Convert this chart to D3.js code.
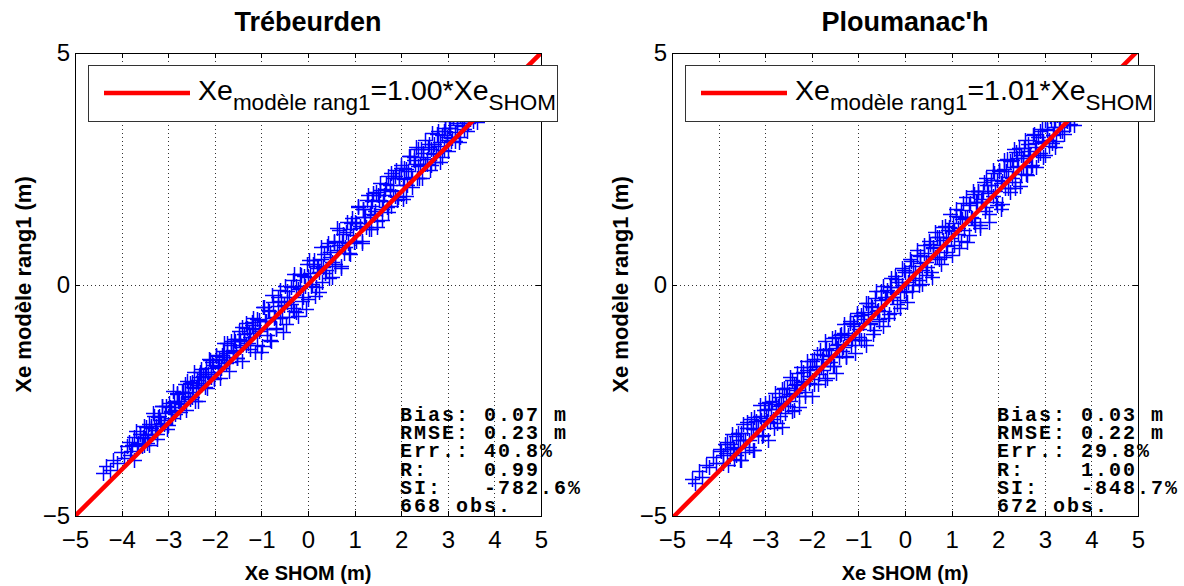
<!DOCTYPE html>
<html lang="fr">
<head>
<meta charset="UTF-8">
<script src="https://cdn.jsdelivr.net/npm/d3@7"></script>
<style>
body { margin: 0; background: #fff; }
svg text { font-family: Arial, "Liberation Sans", Helvetica, sans-serif; fill: #000; }
.grid line { stroke: #333; stroke-width: 1; stroke-dasharray: 1,3; shape-rendering: crispEdges; }
.tick line { stroke: #000; shape-rendering: crispEdges; }
.tick text { font-size: 24px; }
.frame { fill: none; stroke: #000; stroke-width: 1; shape-rendering: crispEdges; }
.stats text { font-family: "Courier New", "Liberation Mono", monospace; font-weight: bold; font-size: 20px; letter-spacing: 2px; white-space: pre; }
</style>
</head>
<body>
<svg id="fig" width="1184" height="586"></svg>
<script>
// station names, fitted slopes and stats text
const titles = ["Trébeurden", "Ploumanac'h"];
const slopes = [1.00, 1.01];
const statsLines = [
  ["Bias: 0.07 m", "RMSE: 0.23 m", "Err.: 40.8%", "R:    0.99", "SI:   -782.6%", "668 obs."],
  ["Bias: 0.03 m", "RMSE: 0.22 m", "Err.: 29.8%", "R:    1.00", "SI:   -848.7%", "672 obs."]
];
const xTicks = [-5, -4, -3, -2, -1, 0, 1, 2, 3, 4, 5];
const yTicks = [-5, 0, 5];

// [Xe SHOM, Xe modele rang1]
const trebeurdenPts = [
  [-4.40,-4.08],[-4.33,-3.92],[-4.25,-4.00],[-4.18,-3.78],[-4.10,-3.85],[-4.02,-3.62],[-3.95,-3.75],[-3.88,-3.48],
  [-3.80,-3.60],[-3.74,-3.30],[-3.67,-3.45],[-3.60,-3.22],
  [-3.55,-3.30],[-3.51,-3.46],[-3.48,-3.08],[-3.44,-3.26],[-3.41,-3.46],[-3.37,-3.05],[-3.34,-3.22],[-3.30,-2.85],
  [-3.27,-3.05],[-3.23,-3.23],[-3.20,-2.84],[-3.16,-3.01],[-3.13,-2.63],[-3.09,-3.01],[-3.06,-2.78],[-3.02,-3.12],
  [-2.99,-2.57],[-2.95,-2.75],[-2.92,-2.89],[-2.88,-2.54],[-2.85,-2.71],[-2.81,-2.34],[-2.78,-2.52],[-2.74,-2.76],
  [-2.71,-2.33],[-2.67,-2.57],[-2.64,-2.34],[-2.60,-2.08],[-2.57,-2.41],[-2.53,-2.47],[-2.50,-2.10],[-2.46,-2.22],
  [-2.43,-2.51],[-2.39,-2.06],[-2.36,-2.17],[-2.32,-1.88],[-2.29,-2.18],[-2.25,-1.98],[-2.22,-2.21],[-2.18,-1.81],
  [-2.15,-1.94],[-2.11,-1.63],[-2.08,-1.99],[-2.04,-1.73],[-2.01,-2.05],[-1.97,-1.54],[-1.94,-1.77],[-1.90,-1.61],
  [-1.87,-1.80],[-1.83,-1.44],[-1.80,-1.57],[-1.76,-1.63],[-1.73,-1.27],[-1.69,-1.67],[-1.66,-1.31],[-1.62,-1.42],
  [-1.59,-1.18],[-1.55,-1.43],[-1.52,-1.58],[-1.48,-1.18],[-1.45,-1.20],[-1.41,-0.91],[-1.38,-1.23],[-1.34,-1.30],
  [-1.31,-0.93],[-1.27,-1.05],[-1.24,-1.14],[-1.20,-0.87],[-1.17,-0.72],[-1.13,-0.95],
  [-1.10,-1.30],[-1.06,-0.76],[-1.02,-0.97],[-0.98,-1.33],[-0.94,-0.49],[-0.91,-0.79],[-0.87,-0.97],[-0.83,-0.58],
  [-0.79,-1.21],[-0.75,-0.37],[-0.71,-0.71],[-0.68,-0.93],[-0.64,-0.46],[-0.60,-0.12],[-0.56,-0.71],[-0.52,-0.44],
  [-0.48,-0.86],[-0.45,-0.13],[-0.41,-0.27],[-0.37,-0.42],[-0.33,0.09],[-0.29,-0.57],[-0.25,-0.03],[-0.22,-0.67],
  [-0.18,-0.08],[-0.14,0.21],[-0.10,-0.28],[-0.06,-0.04],[-0.02,0.45],[0.01,-0.31],[0.05,0.25],[0.09,0.01],
  [0.13,0.53],[0.17,-0.05],[0.21,0.36],[0.24,-0.16],[0.28,0.56],[0.32,0.38],[0.36,0.24],[0.40,0.84],
  [0.44,0.14],[0.47,0.71],[0.51,0.49],[0.55,0.91],[0.59,0.39],[0.63,0.75],[0.67,1.17],[0.70,0.35],
  [0.74,0.92],[0.78,0.68],[0.82,1.14],[0.86,0.90],[0.90,0.65],[0.93,1.33],[0.97,1.06],
  [1.01,1.36],[1.04,0.94],[1.08,1.68],[1.11,1.26],[1.15,0.95],[1.18,1.63],[1.21,1.46],[1.25,1.25],
  [1.28,1.93],[1.32,1.52],[1.35,1.20],[1.38,1.80],[1.42,1.50],[1.45,2.00],[1.49,1.37],[1.52,1.82],
  [1.55,2.05],[1.59,1.39],[1.62,1.80],[1.66,2.06],[1.69,1.67],[1.72,2.34],[1.76,2.04],[1.79,1.69],
  [1.83,2.29],[1.86,1.91],[1.89,2.47],[1.93,1.88],[1.96,2.30],[2.00,2.52],[2.03,1.85],[2.06,2.28],
  [2.10,2.50],[2.13,2.15],[2.17,2.77],[2.20,2.32],[2.23,2.11],[2.27,2.75],[2.30,2.60],[2.34,2.29],
  [2.37,2.92],[2.40,2.58],[2.44,2.29],[2.47,2.83],[2.51,2.61],
  [2.55,2.60],[2.58,2.98],[2.62,2.47],[2.65,2.93],[2.69,2.81],[2.73,2.65],[2.76,3.26],[2.80,3.00],
  [2.83,2.65],[2.87,3.22],[2.91,2.91],[2.94,3.39],[2.98,3.13],[3.01,2.89],[3.05,3.37],[3.09,3.17],
  [3.12,3.67],[3.16,3.11],[3.19,3.44],[3.23,3.08],[3.27,3.67],[3.30,3.42],[3.34,3.36],[3.37,3.85],
  [3.41,3.31],[3.45,3.75],[3.48,3.58],[3.52,4.04],[3.55,3.53],[3.59,3.81],[3.63,3.51],[3.66,4.04],
  [3.70,3.75],[3.73,4.01],[3.78,3.88],
  [-3.85,-3.40],[-3.81,-3.69],[-3.77,-3.47],[-3.73,-3.78],[-3.69,-3.17],[-3.65,-3.43],[-3.61,-3.23],[-3.57,-3.49],
  [-3.53,-3.05],[-3.49,-3.31],[-3.45,-3.43],[-3.41,-3.01],[-3.37,-3.09],[-3.33,-2.78],[-3.29,-3.14],[-3.25,-3.33],
  [-3.21,-2.86],[-3.17,-2.92],[-3.13,-2.63],[-3.09,-2.99],[-3.05,-2.63],[-3.01,-3.03],[-2.97,-2.65],[-2.93,-2.73],
  [-2.89,-2.31],[-2.85,-2.80],[-2.81,-2.37],[-2.77,-2.51],[-2.73,-2.59],[-2.69,-2.33],[-2.65,-2.15],[-2.61,-2.71],
  [-2.57,-2.33],[-2.53,-2.13],[-2.49,-2.43],[-2.45,-1.90],[-2.41,-2.23],[-2.37,-2.52],[-2.33,-1.99],[-2.29,-1.83],
  [-2.25,-2.13],[-2.21,-1.93],[-2.17,-2.23],[-2.13,-1.61],[-2.09,-1.89],[-2.05,-1.67],[-2.01,-2.01],[-1.97,-1.52],
  [-1.93,-1.78],[-1.89,-2.01],[-1.85,-1.53],[-1.81,-1.26],[-1.77,-1.69],[-1.73,-1.48],[-1.69,-1.87],[-1.65,-1.23],
  [-1.61,-1.45],[-1.57,-1.21],[-1.53,-1.58],[-1.49,-1.01],[-1.45,-1.35],[-1.41,-1.66],[-1.37,-1.07],[-1.33,-0.83],
  [-1.29,-1.27],[-1.25,-1.40],[-1.21,-0.81],[-1.17,-0.97],[-1.13,-1.45],[-1.09,-0.74],[-1.05,-1.00],[-1.01,-1.46],
  [-0.97,-0.49],[-0.93,-0.78],[-0.89,-1.09],[-0.85,-0.55],[-0.81,-1.19],[-0.77,-0.22],[-0.73,-0.73],[-0.69,-0.97],
  [-0.65,-0.27],[-0.61,-0.73],[-0.57,-0.35],[-0.53,-1.03],[-0.49,-0.04],[-0.45,-0.37],[-0.41,-0.71],[-0.37,-0.05],
  [-0.33,-0.51],[-0.29,0.23],[-0.25,-0.60],[-0.21,-0.09],[-0.17,0.23],[-0.13,-0.35],[-0.09,0.19],[-0.05,-0.53],
  [-0.01,0.17],[0.03,0.53],[0.07,-0.03],[0.11,0.45],[0.15,-0.25],[0.19,0.41],[0.23,0.28],[0.27,0.82],
  [0.31,0.06],[0.35,0.65],[0.39,0.31],[0.43,0.89],[0.47,0.59],[0.51,0.16],[0.55,0.95],[0.59,0.44],
  [0.63,1.21],[0.67,0.85],[0.71,0.41],[0.75,1.10],[0.79,0.81],[0.83,1.35],[0.87,0.67],[0.91,1.19],
  [0.95,1.43],[0.99,0.91],[1.03,1.33],[1.07,1.69],[1.11,1.21],[1.15,0.90],[1.19,1.64],[1.23,1.45],
  [1.27,1.82],[1.31,1.19],[1.35,1.70],[1.39,1.97],[1.43,1.58],[1.47,1.25],[1.51,1.93],[1.55,2.20],
  [1.59,1.64],[1.63,1.93],[1.67,2.17],[1.71,1.56],[1.75,2.15],[1.79,2.41],[1.83,2.01],[1.87,2.35],
  [1.91,1.83],[1.95,2.30],[1.99,2.59],[2.03,2.15],[2.07,2.52],[2.11,1.91],[2.15,2.45],[2.19,2.77],
  [2.23,2.31],[2.27,2.69],[2.31,2.96],[2.35,2.55],[2.39,2.29],[2.43,2.93],[2.47,2.75],[2.51,3.13],
  [2.55,2.70],[2.59,3.04],[2.63,2.58],[2.67,3.27],[2.71,3.03],[2.75,2.85],[2.79,3.31],[2.83,3.08],
  [2.87,2.75],[2.91,3.31],[2.95,3.53],[2.99,3.19],[3.03,3.38],[3.07,3.09],[3.11,3.59],[3.15,3.30],
  [3.19,3.49],[3.23,3.78],[3.27,3.19],[3.31,3.69],[3.35,3.53],[3.39,3.84],[3.43,3.48],[3.47,3.79],
  [3.51,3.63],[3.55,3.95],[3.59,3.79]
];

const ploumanachPts = [
  [-4.58,-4.20],[-4.50,-4.28],[-4.43,-4.02],[-4.36,-4.15],[-4.28,-3.90],[-4.20,-3.95],[-4.12,-3.72],[-4.05,-3.85],
  [-3.97,-3.55],[-3.90,-3.68],[-3.82,-3.40],[-3.75,-3.55],
  [-3.70,-3.50],[-3.66,-3.76],[-3.62,-3.27],[-3.58,-3.53],[-3.55,-3.80],[-3.51,-3.21],[-3.47,-3.35],[-3.43,-3.61],
  [-3.39,-2.97],[-3.35,-3.35],[-3.31,-3.09],[-3.27,-3.57],[-3.24,-2.86],[-3.20,-3.12],[-3.16,-3.28],[-3.12,-2.84],
  [-3.08,-2.93],[-3.04,-3.26],[-3.00,-2.55],[-2.96,-2.94],[-2.93,-2.68],[-2.89,-2.97],[-2.85,-2.52],[-2.81,-3.09],
  [-2.77,-2.59],[-2.73,-2.63],[-2.69,-2.84],[-2.65,-2.25],[-2.62,-2.56],[-2.58,-2.78],[-2.54,-2.24],[-2.50,-2.36],
  [-2.46,-2.51],[-2.42,-2.06],[-2.38,-2.70],[-2.34,-2.14],[-2.31,-2.28],[-2.27,-2.41],[-2.23,-1.79],[-2.19,-2.08],
  [-2.15,-2.41],[-2.11,-1.84],[-2.07,-1.98],[-2.03,-2.05],[-2.00,-1.66],[-1.96,-2.14],[-1.92,-1.76],[-1.88,-1.50],
  [-1.84,-1.94],[-1.80,-1.76],[-1.76,-1.52],[-1.72,-2.07],[-1.69,-1.39],[-1.65,-1.53],[-1.61,-1.67],[-1.57,-1.16],
  [-1.53,-1.75],[-1.49,-1.30],[-1.45,-1.38],[-1.41,-1.57],[-1.38,-1.06],[-1.34,-1.34],[-1.30,-1.04],[-1.26,-1.54],
  [-1.22,-1.08],[-1.18,-0.78],[-1.14,-1.18],[-1.10,-0.89],[-1.07,-1.19],[-1.03,-0.68],
  [-0.99,-1.14],[-0.95,-0.65],[-0.91,-0.83],[-0.87,-1.19],[-0.83,-0.41],[-0.79,-0.64],[-0.76,-0.84],[-0.72,-0.47],
  [-0.68,-1.06],[-0.64,-0.29],[-0.60,-0.58],[-0.56,-0.78],[-0.52,-0.34],[-0.48,-0.03],[-0.45,-0.57],[-0.41,-0.31],
  [-0.37,-0.72],[-0.33,-0.05],[-0.29,-0.17],[-0.25,-0.27],[-0.21,0.19],[-0.17,-0.42],[-0.14,0.06],[-0.10,-0.50],
  [-0.06,0.00],[-0.02,0.31],[0.02,-0.16],[0.06,0.06],[0.10,0.54],[0.14,-0.14],[0.17,0.39],[0.21,0.15],
  [0.25,0.63],[0.29,0.09],[0.33,0.47],[0.37,0.01],[0.41,0.67],[0.45,0.49],[0.48,0.38],[0.52,0.94],
  [0.56,0.26],[0.60,0.78],[0.64,0.60],[0.68,1.02],[0.72,0.56],[0.76,0.86],[0.79,1.25],[0.83,0.59],
  [0.87,1.03],[0.91,0.83],[0.95,1.25],[0.99,1.01],
  [1.03,1.33],[1.06,0.86],[1.10,1.62],[1.13,1.21],[1.16,0.78],[1.20,1.60],[1.23,1.41],[1.27,1.17],
  [1.30,1.88],[1.33,1.45],[1.37,1.07],[1.40,1.75],[1.44,1.44],[1.47,1.95],[1.50,1.28],[1.54,1.79],
  [1.57,2.01],[1.61,1.21],[1.64,1.79],[1.67,2.03],[1.71,1.59],[1.74,2.29],[1.78,1.98],[1.81,1.53],
  [1.84,2.26],[1.88,1.92],[1.91,2.41],[1.95,1.79],[1.98,2.26],[2.01,2.47],[2.05,1.63],[2.08,2.24],
  [2.12,2.50],[2.15,2.09],[2.18,2.72],[2.22,2.32],[2.25,1.99],[2.29,2.69],[2.32,2.54],[2.35,2.21],
  [2.39,2.87],[2.42,2.56],[2.46,2.12],[2.49,2.79],
  [2.53,2.53],[2.56,2.94],[2.60,2.38],[2.64,2.89],[2.67,2.77],[2.71,2.56],[2.75,3.23],[2.78,2.96],
  [2.82,2.54],[2.86,3.18],[2.89,2.84],[2.93,3.35],[2.97,3.09],[3.00,2.80],[3.04,3.34],[3.08,3.13],
  [3.11,3.63],[3.15,3.05],[3.19,3.41],[3.22,2.97],[3.26,3.66],[3.30,3.40],[3.33,3.31],[3.37,3.82],
  [3.41,3.26],[3.44,3.72],[3.48,3.54],[3.52,4.02],[3.55,3.47],[3.59,3.79],[3.63,3.45],[3.66,4.01],
  [3.70,3.72],[3.74,3.99],
  [-3.95,-3.60],[-3.91,-3.86],[-3.87,-3.45],[-3.83,-3.65],[-3.79,-3.89],[-3.75,-3.45],[-3.71,-3.23],[-3.67,-3.55],
  [-3.63,-3.68],[-3.59,-3.21],[-3.55,-3.35],[-3.51,-3.79],[-3.47,-3.02],[-3.43,-3.35],[-3.39,-3.09],[-3.35,-3.50],
  [-3.31,-2.91],[-3.27,-3.12],[-3.23,-3.58],[-3.19,-2.94],[-3.15,-3.13],[-3.11,-2.61],[-3.07,-3.27],[-3.03,-2.71],
  [-2.99,-2.89],[-2.95,-3.35],[-2.91,-2.53],[-2.87,-2.69],[-2.83,-2.91],[-2.79,-2.35],[-2.75,-3.00],[-2.71,-2.43],
  [-2.67,-2.61],[-2.63,-3.08],[-2.59,-2.24],[-2.55,-2.40],[-2.51,-2.63],[-2.47,-1.99],[-2.43,-2.73],[-2.39,-2.17],
  [-2.35,-2.35],[-2.31,-1.91],[-2.27,-2.65],[-2.23,-2.11],[-2.19,-1.89],[-2.15,-2.33],[-2.11,-1.66],[-2.07,-2.12],
  [-2.03,-1.78],[-1.99,-2.41],[-1.95,-1.60],[-1.91,-1.83],[-1.87,-2.15],[-1.83,-1.41],[-1.79,-1.61],[-1.75,-1.85],
  [-1.71,-1.21],[-1.67,-2.02],[-1.63,-1.41],[-1.59,-1.54],[-1.55,-1.75],[-1.51,-1.13],[-1.47,-1.92],[-1.43,-1.28],
  [-1.39,-1.09],[-1.35,-1.43],[-1.31,-0.85],[-1.27,-1.57],[-1.23,-1.13],[-1.19,-0.84],[-1.15,-1.30],[-1.11,-0.86],
  [-1.07,-1.47],[-1.03,-0.61],[-0.99,-0.97],[-0.95,-1.20],[-0.91,-0.59],[-0.87,-0.75],[-0.83,-1.31],[-0.79,-0.39],
  [-0.75,-0.85],[-0.71,-0.49],[-0.67,-0.99],[-0.63,-0.15],[-0.59,-0.54],[-0.55,-0.75],[-0.51,-0.15],[-0.47,-0.89],
  [-0.43,-0.28],[-0.39,-0.11],[-0.35,-0.63],[-0.31,0.14],[-0.27,-0.27],[-0.23,-0.61],[-0.19,0.11],[-0.15,-0.05],
  [-0.11,-0.33],[-0.07,0.35],[-0.03,-0.15],[0.01,0.26],[0.05,-0.37],[0.09,0.27],[0.13,0.51],[0.17,-0.01],
  [0.21,0.26],[0.25,0.75],[0.29,-0.01],[0.33,0.61],[0.37,0.32],[0.41,0.85],[0.45,0.20],[0.49,0.61],
  [0.53,0.88],[0.57,0.17],[0.61,0.81],[0.65,1.13],[0.69,0.59],[0.73,1.03],[0.77,0.45],[0.81,0.96],
  [0.85,1.27],[0.89,0.71],[0.93,1.18],[0.97,1.52],[1.01,0.63],[1.05,1.15],[1.09,1.49],[1.13,1.08],
  [1.17,1.45],[1.21,0.93],[1.25,1.75],[1.29,1.44],[1.33,0.91],[1.37,1.72],[1.41,1.46],[1.45,2.03],
  [1.49,1.34],[1.53,1.78],[1.57,2.02],[1.61,1.29],[1.65,1.85],[1.69,2.21],[1.73,1.68],[1.77,2.15],
  [1.81,1.36],[1.85,2.15],[1.89,2.47],[1.93,2.01],[1.97,1.72],[2.01,2.46],[2.05,2.20],[2.09,1.74],
  [2.13,2.68],[2.17,2.45],[2.21,2.09],[2.25,2.67],[2.29,2.31],[2.33,2.93],[2.37,2.09],[2.41,2.73],
  [2.45,2.95],[2.49,2.39],[2.53,2.73],[2.57,3.12],[2.61,2.36],[2.65,3.03],[2.69,2.79],[2.73,2.58],
  [2.77,3.25],[2.81,3.06],[2.85,2.80],[2.89,3.31],[2.93,3.08],[2.97,2.75],[3.01,3.56],[3.05,3.35],
  [3.09,2.99],[3.13,3.58],[3.17,3.22],[3.21,3.56],[3.25,3.10],[3.29,3.79],[3.33,3.53],[3.37,3.32],
  [3.41,3.81],[3.45,3.57],[3.49,3.81],[3.53,3.45],[3.57,3.82]
];

const pointSets = [trebeurdenPts, ploumanachPts];

const svg = d3.select("#fig");
const panelLeft = [75, 672];
const W = 466, plotTop = 53, plotBottom = 516;

pointSets.forEach((pts, p) => {
  const x0 = panelLeft[p];
  const x = d3.scaleLinear().domain([-5, 5]).range([x0, x0 + W]);
  const y = d3.scaleLinear().domain([-5, 5]).range([plotBottom, plotTop]);
  const g = svg.append("g");

  g.append("clipPath").attr("id", "clip" + p)
    .append("rect").attr("x", x0).attr("y", plotTop).attr("width", W).attr("height", plotBottom - plotTop);

  // dotted grid
  const grid = g.append("g").attr("class", "grid");
  grid.selectAll(".gx").data(xTicks.slice(1, -1)).enter().append("line")
    .attr("x1", d => Math.round(x(d)) + 0.5).attr("x2", d => Math.round(x(d)) + 0.5)
    .attr("y1", plotTop).attr("y2", plotBottom);
  grid.selectAll(".gy").data([0]).enter().append("line")
    .attr("x1", x0).attr("x2", x0 + W)
    .attr("y1", d => Math.round(y(d)) + 0.5).attr("y2", d => Math.round(y(d)) + 0.5);

  // scatter markers '+'
  g.append("g").attr("clip-path", `url(#clip${p})`)
    .selectAll("path").data(pts).enter().append("path")
    .attr("d", d => `M${Math.round(x(d[0])) - 7},${Math.round(y(d[1])) + 0.5}h15M${Math.round(x(d[0])) + 0.5},${Math.round(y(d[1])) - 7}v15`)
    .attr("stroke", "#0000ff").attr("stroke-width", 1.5).attr("fill", "none");

  // regression line
  g.append("line").attr("clip-path", `url(#clip${p})`)
    .attr("x1", x(-5)).attr("y1", y(-5 * slopes[p]))
    .attr("x2", x(5)).attr("y2", y(5 * slopes[p]))
    .attr("stroke", "#ff0000").attr("stroke-width", 4.5);

  // axes with inward ticks
  g.append("g").attr("transform", `translate(0,${plotBottom})`)
    .call(d3.axisBottom(x).tickValues(xTicks).tickSize(-5).tickPadding(15).tickFormat(d3.format("d")))
    .call(a => a.select(".domain").remove());
  g.append("g").attr("transform", `translate(0,${plotTop})`)
    .call(d3.axisTop(x).tickValues(xTicks).tickSize(-5).tickFormat(""))
    .call(a => a.select(".domain").remove());
  g.append("g").attr("transform", `translate(${x0},0)`)
    .call(d3.axisLeft(y).tickValues(yTicks).tickSize(-5).tickPadding(5).tickFormat(d3.format("d")))
    .call(a => a.select(".domain").remove());
  g.append("g").attr("transform", `translate(${x0 + W},0)`)
    .call(d3.axisRight(y).tickValues(yTicks).tickSize(-5).tickFormat(""))
    .call(a => a.select(".domain").remove());
  g.selectAll(".tick text").attr("font-family", null).attr("font-size", null);

  g.append("rect").attr("class", "frame")
    .attr("x", x0 + 0.5).attr("y", plotTop + 0.5).attr("width", W).attr("height", plotBottom - plotTop);

  // title and axis labels
  g.append("text").attr("x", x0 + W / 2).attr("y", 31).attr("text-anchor", "middle")
    .attr("font-weight", "bold").attr("font-size", 27).text(titles[p]);
  g.append("text").attr("x", x0 + W / 2).attr("y", 580).attr("text-anchor", "middle")
    .attr("font-weight", "bold").attr("font-size", 20).text("Xe SHOM (m)");
  g.append("text").attr("transform", `translate(${x0 - 44},${(plotTop + plotBottom) / 2}) rotate(-90)`)
    .attr("text-anchor", "middle").attr("font-weight", "bold").attr("font-size", 22)
    .text("Xe modèle rang1 (m)");

  // legend
  const lx = x0 + 13;
  g.append("rect").attr("x", lx + 0.5).attr("y", 65.5).attr("width", 469).attr("height", 56)
    .attr("fill", "#fff").attr("stroke", "#333").attr("stroke-width", 1);
  g.append("line").attr("x1", lx + 16).attr("x2", lx + 102).attr("y1", 93).attr("y2", 93)
    .attr("stroke", "#ff0000").attr("stroke-width", 4.5);
  const lt = g.append("text").attr("x", lx + 110).attr("y", 100).attr("font-size", 28.5);
  lt.append("tspan").text("Xe");
  lt.append("tspan").attr("font-size", 22.5).attr("dy", 10).text("modèle rang1");
  lt.append("tspan").attr("dy", -10).text(`=${slopes[p].toFixed(2)}*Xe`);
  lt.append("tspan").attr("font-size", 22.5).attr("dy", 10).text("SHOM");

  // stats block
  g.append("g").attr("class", "stats")
    .selectAll("text").data(statsLines[p]).enter().append("text")
    .attr("x", x0 + 325).attr("y", (d, i) => 421 + i * 18.2)
    .text(d => d);
});
</script>
</body>
</html>
